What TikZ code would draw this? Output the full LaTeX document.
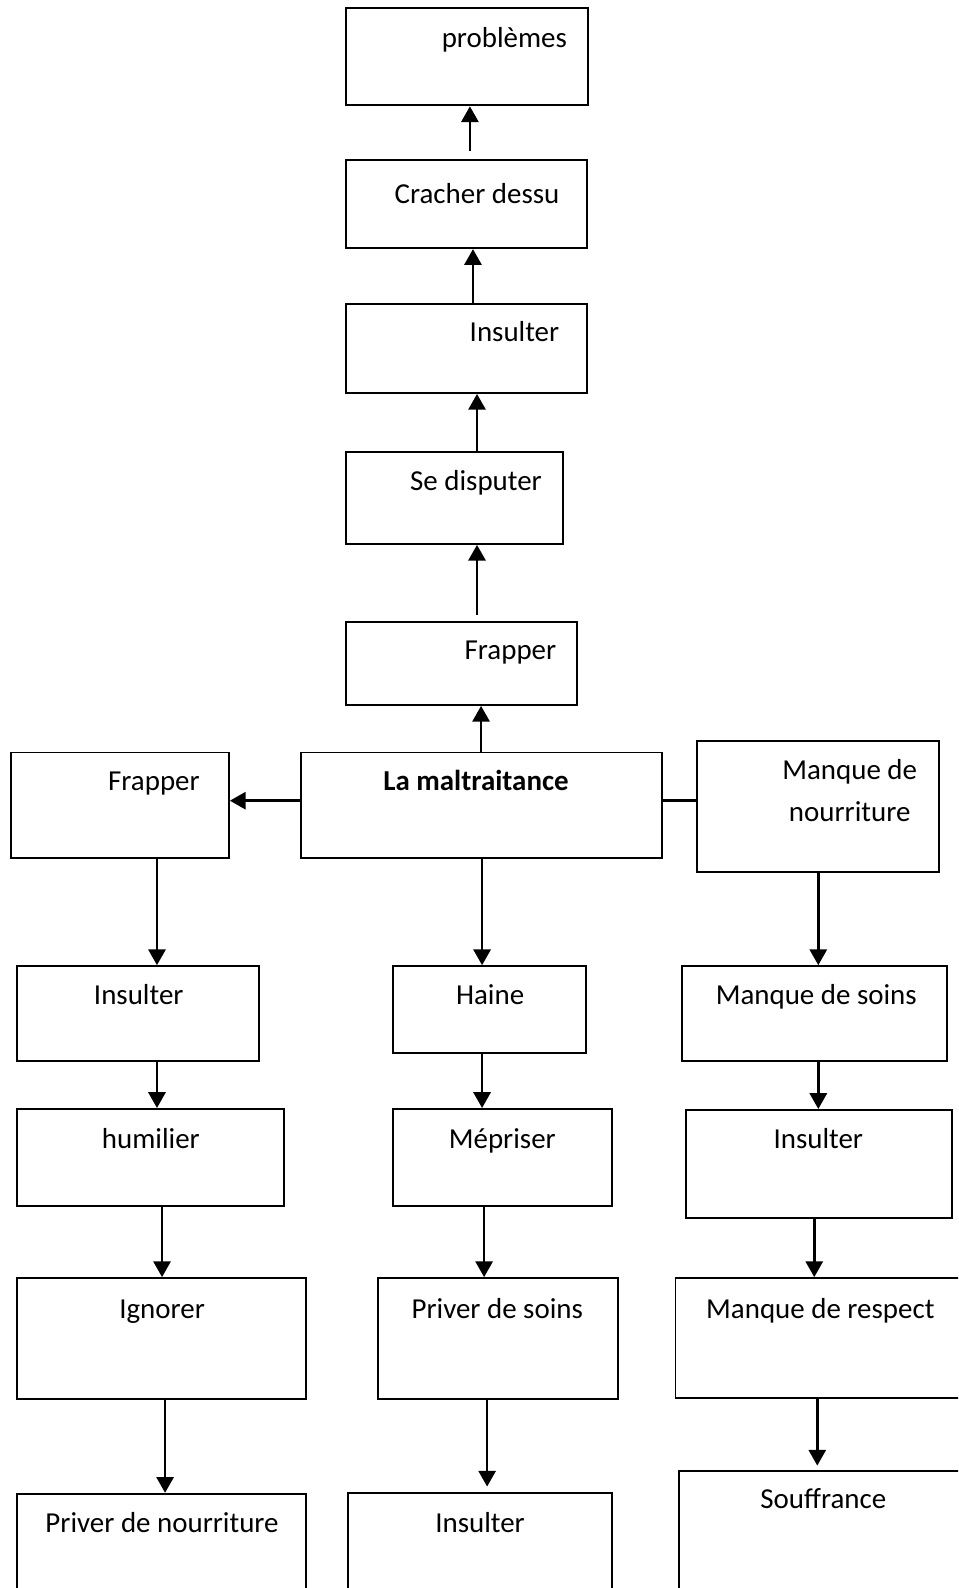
\documentclass[tikz,border=0pt]{standalone}
\usepackage{fontspec}
\setmainfont{Carlito}
\usetikzlibrary{arrows.meta,fit}

\begin{document}
\begin{tikzpicture}[x=0.385pt,y=-0.385pt,
boite/.style={draw,line width=0.75pt,inner sep=0pt},
texte/.style={anchor=base,inner sep=0pt,font=\fontsize{11pt}{13pt}\selectfont},
fleche/.style={line width=1pt,-{Triangle[width=6.5pt,length=6pt]}},
trait/.style={line width=1pt}]
\path[use as bounding box,clip](0,0) rectangle (946,1568);
\node[boite,fit={(342,8) (581,104)}](pb){};
\node[boite,fit={(342,158) (580,245)}](crach){};
\node[boite,fit={(342,300) (580,388)}](ins1){};
\node[boite,fit={(342,446) (556,537)}](disp){};
\node[boite,fit={(342,614) (570,696)}](frap1){};
\node[boite,fit={(297,743) (654,847)}](malt){};
\node[boite,fit={(11,743) (226,847)}](frapg){};
\node[boite,fit={(688,732) (927,861)}](mnour){};
\node[boite,fit={(17,954) (256,1048)}](insg){};
\node[boite,fit={(388,954) (579,1040)}](haine){};
\node[boite,fit={(673,954) (935,1048)}](msoins){};
\node[boite,fit={(17,1095) (280,1191)}](humil){};
\node[boite,fit={(388,1095) (604,1191)}](mepr){};
\node[boite,fit={(677,1096) (940,1203)}](insd){};
\node[boite,fit={(17,1262) (302,1381)}](ignor){};
\node[boite,fit={(373,1262) (610,1381)}](psoins){};
\node[boite,fit={(667,1262) (948,1380)}](mresp){};
\node[boite,fit={(17,1475) (302,1600)}](pnour){};
\node[boite,fit={(344,1474) (604,1600)}](insb){};
\node[boite,fit={(670,1452) (950,1600)}](souff){};
\node[texte](tpb) at (498,47) {problèmes};
\node[texte](tcrach) at (471,201) {Cracher dessu};
\node[texte](tins1) at (508,337) {Insulter};
\node[texte](tdisp) at (470,484) {Se disputer};
\node[texte](tfrap1) at (504,651) {Frapper};
\node[texte](tmalt) at (470,781) {\textbf{La maltraitance}};
\node[texte](tfrapg) at (152,781) {Frapper};
\node[texte](tmnour1) at (839,770) {Manque de};
\node[texte](tmnour2) at (839,811) {nourriture};
\node[texte](tinsg) at (137,992) {Insulter};
\node[texte](thaine) at (484,992) {Haine};
\node[texte](tmsoins) at (806,992) {Manque de soins};
\node[texte](thumil) at (149,1134) {humilier};
\node[texte](tmepr) at (496,1134) {Mépriser};
\node[texte](tinsd) at (808,1134) {Insulter};
\node[texte](tignor) at (160,1302) {Ignorer};
\node[texte](tpsoins) at (491,1302) {Priver de soins};
\node[texte](tmresp) at (810,1302) {Manque de respect};
\node[texte](tpnour) at (160,1513) {Priver de nourriture};
\node[texte](tinsb) at (474,1513) {Insulter};
\node[texte](tsouff) at (813,1489) {Souffrance};
\draw[fleche,shorten <=3pt](crach.north -| 464,0)--(pb.south -| 464,0);
\draw[fleche](ins1.north -| 467,0)--(crach.south -| 467,0);
\draw[fleche](disp.north -| 471,0)--(ins1.south -| 471,0);
\draw[fleche,shorten <=2.3pt](frap1.north -| 471,0)--(disp.south -| 471,0);
\draw[fleche](malt.north -| 475,0)--(frap1.south -| 475,0);
\draw[fleche](malt.west |- 0,790.6)--(frapg.east |- 0,790.6);
\draw[trait](malt.east |- 0,790.6)--(mnour.west |- 0,790.6);
\draw[fleche](malt.south -| 476,0)--(haine.north -| 476,0);
\draw[fleche](frapg.south -| 155,0)--(insg.north -| 155,0);
\draw[fleche](mnour.south -| 808,0)--(msoins.north -| 808,0);
\draw[fleche](insg.south -| 155,0)--(humil.north -| 155,0);
\draw[fleche](haine.south -| 476,0)--(mepr.north -| 476,0);
\draw[fleche](msoins.south -| 808,0)--(insd.north -| 808,0);
\draw[fleche](humil.south -| 160,0)--(ignor.north -| 160,0);
\draw[fleche](mepr.south -| 478,0)--(psoins.north -| 478,0);
\draw[fleche](insd.south -| 804,0)--(mresp.north -| 804,0);
\draw[fleche](ignor.south -| 163,0)--(pnour.north -| 163,0);
\draw[fleche,shorten >=2pt](psoins.south -| 481,0)--(insb.north -| 481,0);
\draw[fleche,shorten >=1.5pt](mresp.south -| 807,0)--(souff.north -| 807,0);
\end{tikzpicture}
\end{document}
